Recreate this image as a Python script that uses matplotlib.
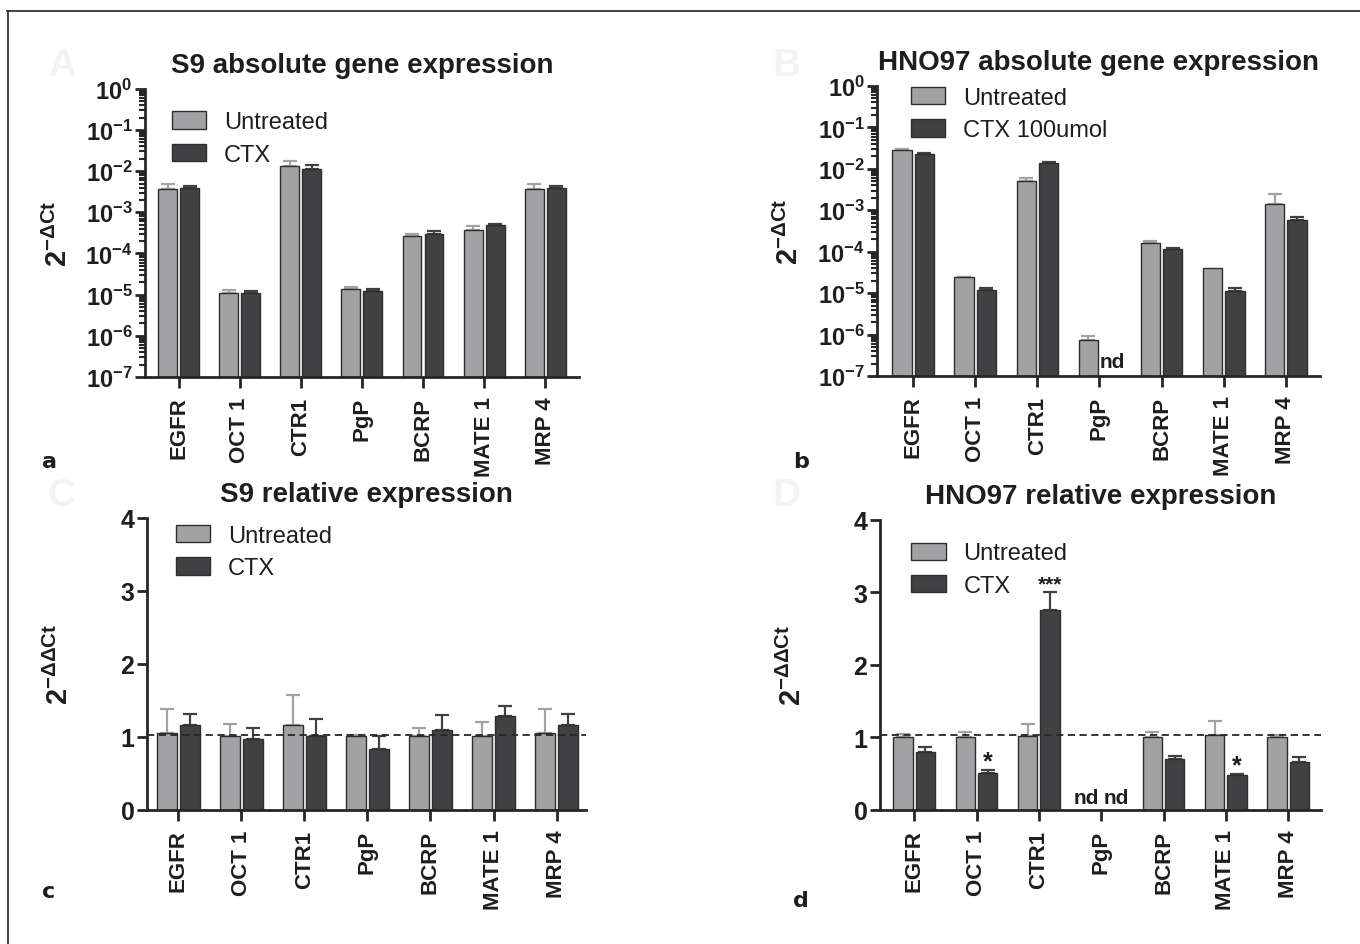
import numpy as np
import matplotlib
matplotlib.use('Agg')
import matplotlib.pyplot as plt
from matplotlib.lines import Line2D
from matplotlib.ticker import FuncFormatter, LogLocator, NullFormatter

plt.rcParams['font.family'] = ['Liberation Sans', 'DejaVu Sans']
plt.rcParams['mathtext.default'] = 'regular'

genes = ['EGFR', 'OCT 1', 'CTR1', 'PgP', 'BCRP', 'MATE 1', 'MRP 4']

# a: S9 absolute (2^-dCt)
s9_abs_untr = [3.7e-3, 1.12e-5, 1.3e-2, 1.4e-5, 2.6e-4, 3.8e-4, 3.7e-3]
s9_abs_untr_err = [1.2e-3, 0.18e-5, 4.4e-3, 0.1e-5, 0.3e-4, 0.8e-4, 1.2e-3]
s9_abs_ctx = [4.0e-3, 1.09e-5, 1.12e-2, 1.2e-5, 2.95e-4, 4.9e-4, 4.0e-3]
s9_abs_ctx_err = [0.4e-3, 0.16e-5, 2.8e-3, 0.2e-5, 0.55e-4, 0.4e-4, 0.4e-3]

# b: HNO97 absolute
hno_abs_untr = [2.9e-2, 2.4e-5, 5.0e-3, 7.3e-7, 1.65e-4, 4.0e-5, 1.4e-3]
hno_abs_untr_err = [0.05e-2, 0.1e-5, 0.9e-3, 2.0e-7, 0.15e-4, 0.0, 1.1e-3]
hno_abs_ctx = [2.25e-2, 1.18e-5, 1.42e-2, np.nan, 1.15e-4, 1.15e-5, 5.9e-4]
hno_abs_ctx_err = [0.15e-2, 0.12e-5, 0.05e-2, np.nan, 0.05e-4, 0.15e-5, 1.0e-4]

# c: S9 relative (2^-ddCt)
s9_rel_untr = [1.05, 1.02, 1.16, 1.02, 1.01, 1.02, 1.05]
s9_rel_untr_err = [0.34, 0.16, 0.41, 0.01, 0.12, 0.19, 0.34]
s9_rel_ctx = [1.17, 0.97, 1.02, 0.84, 1.10, 1.29, 1.17]
s9_rel_ctx_err = [0.15, 0.15, 0.23, 0.18, 0.20, 0.13, 0.15]

# d: HNO97 relative
hno_rel_untr = [1.0, 1.0, 1.02, np.nan, 1.01, 1.03, 1.0]
hno_rel_untr_err = [0.05, 0.08, 0.16, np.nan, 0.07, 0.20, 0.04]
hno_rel_ctx = [0.80, 0.51, 2.76, np.nan, 0.70, 0.48, 0.66]
hno_rel_ctx_err = [0.07, 0.04, 0.24, np.nan, 0.04, 0.01, 0.07]
hno_rel_stars = ['', '*', '***', '', '', '*', '']

baseline = 1.03

c_untr = '#a2a2a4'
c_ctx = '#414143'
c_edge = '#2e2e2e'
c_text = '#1e1e1e'

fig = plt.figure(figsize=(13.6, 9.45), dpi=100)
fig.patch.set_facecolor('white')

# frame lines (top & left)
fig.add_artist(Line2D([0.005, 1.0], [0.987, 0.987], color='#333333', lw=1.3))
fig.add_artist(Line2D([0.006, 0.006], [0.0, 0.987], color='#333333', lw=1.3))


def draw_panel(rect, untr, untr_err, ctx, ctx_err, title, ylab, labels, log, xlim, legpos):
    ax = fig.add_axes(rect)
    x = np.arange(len(genes))
    w = 0.31
    off = 0.18
    for vals, errs, col, dx, lab in [(untr, untr_err, c_untr, -off, labels[0]),
                                     (ctx, ctx_err, c_ctx, off, labels[1])]:
        vals = np.array(vals, dtype=float)
        errs = np.array(errs, dtype=float)
        ok = np.isfinite(vals)
        bottom = 1e-7 if log else 0
        ax.bar(x[ok] + dx, vals[ok] - bottom, w, bottom=bottom, color=col,
               edgecolor=c_edge, linewidth=1.0, label=lab, zorder=2)
        has = ok & (errs > 0)
        ax.errorbar(x[has] + dx, vals[has], yerr=[np.zeros(has.sum()), errs[has]],
                    fmt='none', ecolor=col, elinewidth=1.6, capsize=5, capthick=1.6, zorder=1)
    ax.set_xlim(*xlim)
    ax.set_xticks(x)
    ax.set_xticklabels(genes, rotation=90, fontsize=16, fontweight='bold', color=c_text)
    for s in ['top', 'right']:
        ax.spines[s].set_visible(False)
    for s in ['left', 'bottom']:
        ax.spines[s].set_linewidth(2)
        ax.spines[s].set_color('#262626')
    ax.tick_params(axis='x', length=8, width=2, color='#262626', pad=6)
    ax.tick_params(axis='y', which='major', length=7, width=2, color='#262626', pad=2)
    if log:
        ax.set_yscale('log')
        ax.set_ylim(1e-7, 1)
        ax.yaxis.set_major_locator(LogLocator(base=10, numticks=10))
        ax.yaxis.set_minor_locator(LogLocator(base=10, subs=np.arange(2, 10), numticks=20))
        ax.yaxis.set_minor_formatter(NullFormatter())
        ax.yaxis.set_major_formatter(FuncFormatter(lambda v, p: '10$^{%d}$' % round(np.log10(v))))
        ax.tick_params(axis='y', which='minor', length=4, width=1.5, color='#262626')
        tsize = 17
    else:
        ax.set_ylim(0, 4)
        ax.set_yticks([0, 1, 2, 3, 4])
        ax.axhline(baseline, color='#262626', lw=1.3, ls=(0, (4, 2.5)), zorder=3)
        tsize = 18
    for t in ax.get_yticklabels():
        t.set_fontsize(tsize)
        t.set_fontweight('bold')
        t.set_color(c_text)
    ax.set_ylabel(ylab, fontsize=21, fontweight='bold', color=c_text)
    ax.yaxis.set_label_coords(-0.165, 0.5)
    ax.set_title(title, fontsize=20, fontweight='bold', color=c_text, pad=12)
    leg = ax.legend(loc='upper left', bbox_to_anchor=legpos, frameon=False,
                    prop={'size': 17}, handlelength=1.45,
                    handleheight=0.75, handletextpad=0.75, labelspacing=0.45,
                    borderaxespad=0)
    for t in leg.get_texts():
        t.set_color(c_text)
    return ax


ax_a = draw_panel([0.1066, 0.600, 0.319, 0.305], s9_abs_untr, s9_abs_untr_err, s9_abs_ctx,
                  s9_abs_ctx_err, 'S9 absolute gene expression', '2$^{-ΔCt}$',
                  ['Untreated', 'CTX'], True, (-0.55, 6.55), (0.04, 0.955))
ax_b = draw_panel([0.6449, 0.601, 0.3257, 0.307], hno_abs_untr, hno_abs_untr_err, hno_abs_ctx,
                  hno_abs_ctx_err, 'HNO97 absolute gene expression', '2$^{-ΔCt}$',
                  ['Untreated', 'CTX 100umol'], True, (-0.58, 6.55), (0.055, 1.03))
ax_c = draw_panel([0.108, 0.1418, 0.323, 0.309], s9_rel_untr, s9_rel_untr_err, s9_rel_ctx,
                  s9_rel_ctx_err, 'S9 relative expression', '2$^{-ΔΔCt}$',
                  ['Untreated', 'CTX'], False, (-0.5, 6.47), (0.045, 1.01))
ax_d = draw_panel([0.647, 0.1418, 0.324, 0.307], hno_rel_untr, hno_rel_untr_err, hno_rel_ctx,
                  hno_rel_ctx_err, 'HNO97 relative expression', '2$^{-ΔΔCt}$',
                  ['Untreated', 'CTX'], False, (-0.55, 6.52), (0.05, 0.955))

# not detected markers
pgp = genes.index('PgP')
ax_b.text(pgp + 0.2, 1.3e-7, 'nd', ha='center', va='bottom', fontsize=15, fontweight='bold', color=c_text)
ax_d.text(pgp - 0.24, 0.04, 'nd', ha='center', va='bottom', fontsize=15, fontweight='bold', color=c_text)
ax_d.text(pgp + 0.24, 0.04, 'nd', ha='center', va='bottom', fontsize=15, fontweight='bold', color=c_text)

# significance stars
for i, s in enumerate(hno_rel_stars):
    if s:
        top = hno_rel_ctx[i] + hno_rel_ctx_err[i]
        ax_d.text(i + 0.18, top + 0.12, s, ha='center', va='center',
                  fontsize=18 if len(s) == 1 else 15, fontweight='bold', color=c_text)

# panel letters
for lx, ly, l in [(0.031, 0.505, 'a'), (0.583, 0.505, 'b'), (0.031, 0.050, 'c'), (0.583, 0.040, 'd')]:
    fig.text(lx, ly, l, fontsize=16, fontweight='bold', color=c_text, family=['DejaVu Sans'])
for lx, ly, l in [(0.035, 0.92, 'A'), (0.568, 0.92, 'B'), (0.035, 0.465, 'C'), (0.568, 0.465, 'D')]:
    fig.text(lx, ly, l, fontsize=28, fontweight='bold', color='#f3f3f3')

fig.savefig('out.png', dpi=100)
